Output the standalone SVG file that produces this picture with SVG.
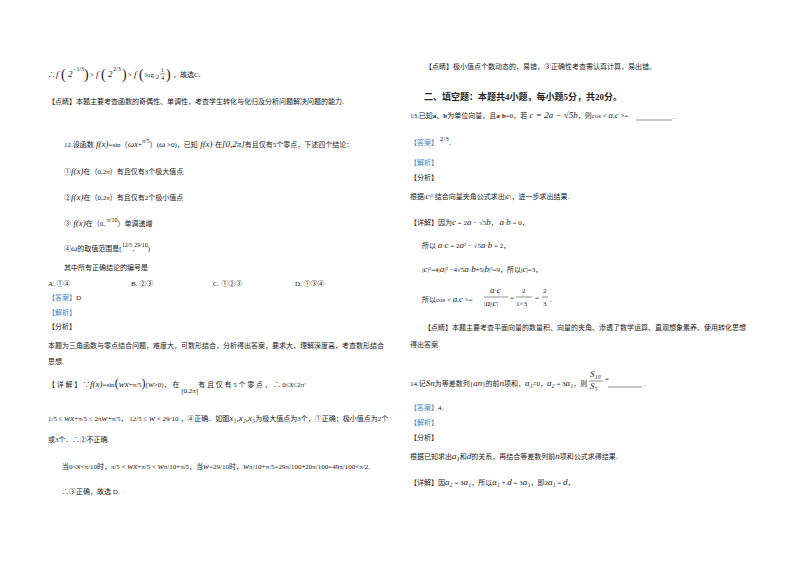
<svg xmlns="http://www.w3.org/2000/svg" width="800" height="565" viewBox="0 0 800 565">
<style>
text{font-family:"Liberation Serif","Noto Sans CJK SC",serif;font-size:7px;fill:#222}
.m{font-family:"Liberation Serif","Noto Sans CJK SC",serif;font-size:9px;font-style:italic}
.s{font-size:6px}
.p{font-size:14px}
.b{fill:#3d85c6}
.h{font-weight:bold;font-size:9px}
line{stroke:#222;stroke-width:0.5}
</style>
<rect width="800" height="565" fill="#fff"/>
<g id="left">
<g id="line1">
<text x="48" y="77">∴</text>
<text x="56" y="77" class="m">f</text><text x="61" y="79" class="p">(</text><text x="68" y="77" class="m">2</text><text x="73" y="71" class="s">−1/3</text><text x="84" y="79" class="p">)</text>
<text x="90" y="77">&gt;</text>
<text x="96" y="77" class="m">f</text><text x="101" y="79" class="p">(</text><text x="108" y="77" class="m">2</text><text x="113" y="71" class="s">2/3</text><text x="122" y="79" class="p">)</text>
<text x="128" y="77">&gt;</text>
<text x="134" y="77" class="m">f</text><text x="139" y="79" class="p">(</text><text x="145" y="77">log</text><text x="156" y="79" class="s">2</text>
<text x="161" y="72" class="s">1</text><line x1="160" y1="74" x2="165" y2="74"/><text x="161" y="80" class="s">4</text>
<text x="166" y="79" class="p">)</text>
<text x="173" y="77">，故选C.</text>
</g>
<text x="48" y="104">【点睛】本题主要考查函数的奇偶性、单调性，考查学生转化与化归及分析问题解决问题的能力.</text>
<text x="64" y="147">12.设函数<tspan class="m"> f(x)</tspan>=sin（<tspan class="m">ωx</tspan>+<tspan dy="-4" class="s">π/5</tspan><tspan dy="4">）(</tspan><tspan class="m">ω</tspan> &gt;0)，已知<tspan class="m"> f(x) </tspan>在<tspan class="m">[0,2π]</tspan>有且仅有5个零点，下述四个结论：</text>
<text x="64" y="174">①<tspan class="m">f(x)</tspan>在（0,2π）有且仅有3个极大值点</text>
<text x="64" y="200">②<tspan class="m">f(x)</tspan>在（0,2π）有且仅有2个极小值点</text>
<text x="64" y="226">③<tspan class="m"> f(x)</tspan>在（0, <tspan dy="-4" class="s">π/10</tspan><tspan dy="4">）单调递增</tspan></text>
<text x="64" y="251">④<tspan class="m">ω</tspan>的取值范围是[<tspan dy="-4" class="s">12/5</tspan><tspan dy="4">,</tspan><tspan dy="-4" class="s">29/10</tspan><tspan dy="4">)</tspan></text>
<text x="64" y="270">其中所有正确结论的编号是</text>
<text x="48" y="286">A. ①④</text><text x="131" y="286">B. ②③</text><text x="213" y="286">C. ①②③</text><text x="295" y="286">D. ①③④</text>
<text x="48" y="300"><tspan class="b">【答案】</tspan>D</text>
<text x="48" y="315" class="b">【解析】</text>
<text x="48" y="329">【分析】</text>
<text x="48" y="348">本题为三角函数与零点结合问题，难度大，可数形结合，分析得出答案，要求大，理解深度高，考查数形结合</text>
<text x="48" y="364">思想.</text>
<text x="48" y="387">【 详 解 】 ∵<tspan class="m">f(x)</tspan>=sin<tspan font-size="12">(</tspan><tspan class="m">wx</tspan>+π/5<tspan font-size="12">)</tspan>(<tspan class="m">w</tspan>&gt;0)， 在 <tspan dy="6">[0,2π]</tspan><tspan dy="-6">有 且 仅 有 5 个 零 点 ，   ∴  0≤<tspan class="m">x</tspan>≤2π'</tspan></text>
<text x="48" y="421">1/5 ≤ <tspan class="m">wx</tspan>+π/5 ≤ 2π<tspan class="m">w</tspan>+π/5， 12/5 ≤ <tspan class="m">w</tspan> &lt; 29/10 ，④正确．如图<tspan class="m">x₁,x₂,x₃</tspan>为极大值点为3个，①正确；极小值点为2个</text>
<text x="48" y="442">或3个．∴②不正确.</text>
<text x="62" y="469">当0&lt;<tspan class="m">x</tspan>&lt;π/10时，π/5 &lt; <tspan class="m">wx</tspan>+π/5 &lt; <tspan class="m">w</tspan>π/10+π/5，当<tspan class="m">w</tspan>=29/10时，<tspan class="m">w</tspan>π/10+π/5=29π/100+20π/100=49π/100&lt;π/2.</text>
<text x="62" y="494">∴③正确，故选 D.</text>
</g>
<g id="right">
<text x="425" y="69">【点睛】极小值点个数动态的，易错，③正确性考查需认真计算，易出错。</text>
<text x="424" y="100" class="h">二、填空题：本题共4小题，每小题5分，共20分。</text>
<text x="410" y="118">13.已知<tspan font-weight="bold">a</tspan>、<tspan font-weight="bold">b</tspan>为单位向量，且<tspan font-weight="bold">a</tspan>·<tspan font-weight="bold">b</tspan>=0，若<tspan class="m" font-style="normal"> c = 2a − √5b</tspan>，则cos &lt; <tspan class="m">a</tspan>,<tspan class="m">c</tspan> &gt;=</text>
<line x1="636" y1="120" x2="672" y2="120"/><text x="673" y="119">.</text>
<text x="410" y="145"><tspan class="b">【答案】</tspan> <tspan dy="-4">2/3</tspan><tspan dy="4">.</tspan></text>
<text x="410" y="165" class="b">【解析】</text>
<text x="410" y="180">【分析】</text>
<text x="410" y="199">根据|<tspan class="m">c</tspan>|² 结合向量夹角公式求出|<tspan class="m">c</tspan>|，进一步求出结果.</text>
<text x="410" y="225">【详解】因为<tspan class="m">c</tspan> = 2<tspan class="m">a</tspan> − √5<tspan class="m">b</tspan>， <tspan class="m">a</tspan>·<tspan class="m">b</tspan> = 0，</text>
<text x="422" y="248">所以 <tspan class="m">a</tspan>·<tspan class="m">c</tspan> = 2<tspan class="m">a</tspan>² − √5<tspan class="m">a</tspan>·<tspan class="m">b</tspan> = 2，</text>
<text x="422" y="272">|<tspan class="m">c</tspan>|²=4|<tspan class="m">a</tspan>|² −4√5<tspan class="m">a</tspan>·<tspan class="m">b</tspan>+5|<tspan class="m">b</tspan>|²=9，所以|<tspan class="m">c</tspan>|=3，</text>
<text x="422" y="302">所以cos &lt; <tspan class="m">a</tspan>,<tspan class="m">c</tspan> &gt;=</text>
<text x="490" y="293"><tspan class="m">a</tspan>·<tspan class="m">c</tspan></text><line x1="484" y1="297" x2="508" y2="297"/><text x="484" y="306">|<tspan class="m">a</tspan>||<tspan class="m">c</tspan>|</text>
<text x="510" y="300">=</text>
<text x="522" y="293">2</text><line x1="516" y1="297" x2="532" y2="297"/><text x="516" y="306">1×3</text>
<text x="535" y="300">=</text>
<text x="543" y="293">2</text><line x1="542" y1="297" x2="548" y2="297"/><text x="543" y="306">3</text><text x="550" y="302">.</text>
<text x="424" y="330">【点睛】本题主要考查平面向量的数量积、向量的夹角、渗透了数学运算、直观想象素养、使用转化思想</text>
<text x="410" y="347">得出答案.</text>
<text x="410" y="386">14.记<tspan class="m">Sn</tspan>为等差数列{<tspan class="m">an</tspan>}的前<tspan class="m">n</tspan>项和，<tspan class="m">a₁</tspan>≠0，<tspan class="m">a₂</tspan> = 3<tspan class="m">a₁</tspan>，则</text>
<text x="590" y="377" class="m">S₁₀</text><line x1="589" y1="381" x2="603" y2="381"/><text x="590" y="389" class="m">S₅</text><text x="605" y="381">=</text>
<line x1="608" y1="387" x2="642" y2="387"/><text x="644" y="386">.</text>
<text x="410" y="410"><tspan class="b">【答案】</tspan>4.</text>
<text x="410" y="425" class="b">【解析】</text>
<text x="410" y="440">【分析】</text>
<text x="410" y="459">根据已知求出<tspan class="m">a₁</tspan>和<tspan class="m">d</tspan>的关系，再结合等差数列前<tspan class="m">n</tspan>项和公式求得结果.</text>
<text x="410" y="485">【详解】因<tspan class="m">a₂</tspan> = 3<tspan class="m">a₁</tspan>，所以<tspan class="m">a₁</tspan> + <tspan class="m">d</tspan> = 3<tspan class="m">a₁</tspan>，即2<tspan class="m">a₁</tspan> = <tspan class="m">d</tspan>，</text>
</g>
</svg>
